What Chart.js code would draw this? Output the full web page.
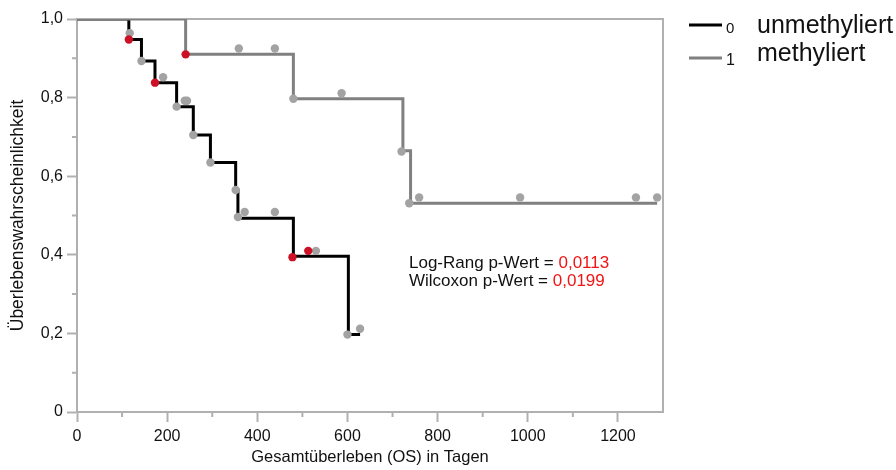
<!DOCTYPE html>
<html>
<head>
<meta charset="utf-8">
<script src="https://cdn.jsdelivr.net/npm/chart.js@4.4.0/dist/chart.umd.min.js"></script>
<style>
  html, body { margin: 0; padding: 0; background: #fff; }
</style>
</head>
<body>
<canvas id="kmChart" width="896" height="470"></canvas>
<script>
const FONT = "'Liberation Sans', Arial, Helvetica, sans-serif";

const groupCodes = ["0", "1"];
const groupNames = ["unmethyliert", "methyliert"];

// Kaplan-Meier steps, group 0 (unmethyliert)
const days0 = [0, 115, 143, 173, 221, 258, 296, 352, 357, 480, 602, 628];
const surv0 = [1.0, 0.948, 0.893, 0.838, 0.777, 0.705, 0.635, 0.565, 0.493, 0.396, 0.197, 0.197];

// Kaplan-Meier steps, group 1 (methyliert)
const days1 = [0, 241, 480, 723, 740, 1287];
const surv1 = [1.0, 0.910, 0.797, 0.665, 0.531, 0.531];

// grey markers (both groups)
const greyDays = [117, 143, 191, 221, 239, 244, 258, 296, 352, 357, 372, 439, 530, 600, 628,
                  359, 439, 480, 587, 720, 737, 759, 983, 1240, 1287];
const greySurv = [0.964, 0.893, 0.852, 0.777, 0.792, 0.792, 0.705, 0.635, 0.565, 0.496, 0.509, 0.509, 0.410, 0.197, 0.212,
                  0.925, 0.925, 0.797, 0.811, 0.663, 0.531, 0.546, 0.546, 0.546, 0.546];

// red markers
const redDays = [115, 173, 478, 513, 241];
const redSurv = [0.948, 0.838, 0.394, 0.410, 0.910];

const xTicks = [0, 200, 400, 600, 800, 1000, 1200];
const statLabels = ["Log-Rang p-Wert = ", "Wilcoxon p-Wert = "];
const statValues = ["0,0113", "0,0199"];

const toPoints = (xs, ys) => xs.map((x, i) => ({ x: x, y: ys[i] }));
const axisGrey = "#b0b0b0";

// frame, minor ticks, legend and p-values
const extras = {
  id: "extras",
  beforeDatasetsDraw(chart) {
    const { ctx, chartArea: a } = chart;
    ctx.save();
    ctx.strokeStyle = axisGrey;
    ctx.lineWidth = 2;
    ctx.beginPath();
    ctx.moveTo(a.left, a.top);
    ctx.lineTo(a.right, a.top);
    ctx.lineTo(a.right, a.bottom);
    ctx.stroke();
    // minor ticks
    const xs = chart.scales.x, ys = chart.scales.y;
    ctx.beginPath();
    for (let v = 100; v < 1300; v += 200) {
      const px = xs.getPixelForValue(v);
      ctx.moveTo(px, a.bottom);
      ctx.lineTo(px, a.bottom + 5);
    }
    for (let k = 1; k < 10; k += 2) {
      const py = ys.getPixelForValue(k / 10);
      ctx.moveTo(a.left, py);
      ctx.lineTo(a.left - 5, py);
    }
    ctx.stroke();
    ctx.restore();
  },
  afterDraw(chart) {
    const { ctx } = chart;
    const ds = chart.data.datasets;
    ctx.save();
    // legend
    const rows = [{ y: 25, base: 33, codeSize: 15 }, { y: 58, base: 65, codeSize: 16 }];
    rows.forEach((r, i) => {
      ctx.strokeStyle = ds[i].borderColor;
      ctx.lineWidth = 3;
      ctx.beginPath();
      ctx.moveTo(689, r.y);
      ctx.lineTo(722, r.y);
      ctx.stroke();
      ctx.fillStyle = "#111";
      ctx.textBaseline = "alphabetic";
      ctx.font = r.codeSize + "px " + FONT;
      ctx.fillText(groupCodes[i], 726, r.base);
      ctx.font = "25px " + FONT;
      ctx.fillText(groupNames[i], 757, i === 0 ? 33 : 61);
    });
    // p-values
    ctx.font = "17px " + FONT;
    statLabels.forEach((lab, i) => {
      const y = i === 0 ? 268 : 286;
      ctx.fillStyle = "#111";
      ctx.fillText(lab, 409, y);
      const w = ctx.measureText(lab).width;
      ctx.fillStyle = "#f01414";
      ctx.fillText(statValues[i], 409 + w, y);
    });
    ctx.restore();
  }
};

new Chart(document.getElementById("kmChart"), {
  type: "scatter",
  data: {
    datasets: [
      {
        label: groupNames[0],
        data: toPoints(days0, surv0),
        showLine: true,
        stepped: true,
        borderColor: "#000000",
        borderWidth: 3,
        pointRadius: 0,
        order: 3
      },
      {
        label: groupNames[1],
        data: toPoints(days1, surv1),
        showLine: true,
        stepped: true,
        borderColor: "#808080",
        borderWidth: 3,
        pointRadius: 0,
        order: 2
      },
      {
        label: "grey",
        data: toPoints(greyDays, greySurv),
        pointRadius: 4.2,
        pointBackgroundColor: "#a3a3a3",
        pointBorderWidth: 0,
        order: 1
      },
      {
        label: "red",
        data: toPoints(redDays, redSurv),
        pointRadius: 4.2,
        pointBackgroundColor: "#cc1026",
        pointBorderWidth: 0,
        order: 0
      }
    ]
  },
  options: {
    responsive: false,
    animation: false,
    layout: { padding: { top: 19, right: 233, left: 0, bottom: 0 } },
    plugins: { legend: { display: false }, tooltip: { enabled: false } },
    scales: {
      x: {
        type: "linear",
        min: 0,
        max: 1300,
        afterBuildTicks: s => { s.ticks = xTicks.map(v => ({ value: v })); },
        ticks: {
          autoSkip: false,
          maxRotation: 0,
          color: "#111",
          padding: 5,
          font: { size: 16, family: FONT },
          callback: v => String(v)
        },
        grid: { drawOnChartArea: false, tickLength: 10, tickWidth: 2, tickColor: axisGrey },
        border: { color: axisGrey, width: 2 },
        title: {
          display: true,
          text: "Gesamtüberleben (OS) in Tagen",
          color: "#111",
          font: { size: 16.5, family: FONT },
          padding: { top: 0, bottom: 3 }
        },
        afterFit: s => { s.height = 58; }
      },
      y: {
        type: "linear",
        min: 0,
        max: 1,
        ticks: {
          stepSize: 0.2,
          color: "#111",
          padding: 4,
          font: { size: 16, family: FONT },
          callback: v => {
            const k = Math.round(v * 10);
            return k === 0 ? "0" : (k / 10).toFixed(1).replace(".", ",");
          }
        },
        grid: { drawOnChartArea: false, tickLength: 10, tickWidth: 2, tickColor: axisGrey },
        border: { color: axisGrey, width: 2 },
        title: {
          display: true,
          text: "Überlebenswahrscheinlichkeit",
          color: "#111",
          font: { size: 17.5, family: FONT },
          padding: { top: 8, bottom: 0 }
        },
        afterFit: s => { s.width = 77; }
      }
    }
  },
  plugins: [extras]
});
</script>
</body>
</html>
